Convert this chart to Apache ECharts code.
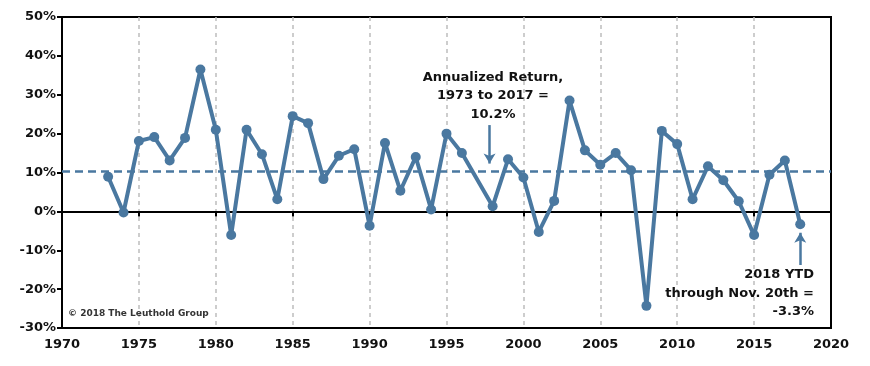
<!DOCTYPE html>
<html>
<head>
<meta charset="utf-8">
<script src="https://cdn.jsdelivr.net/npm/echarts@6/dist/echarts.min.js"></script>
<style>
  html, body { margin: 0; padding: 0; background: #fff; }
  #chart { width: 870px; height: 366px; }
</style>
</head>
<body>
<div id="chart"></div>
<script>
// ---- data ----
const years = [1973, 1974, 1975, 1976, 1977, 1978, 1979, 1980, 1981, 1982, 1983, 1984,
  1985, 1986, 1987, 1988, 1989, 1990, 1991, 1992, 1993, 1994, 1995, 1996, 1998, 1999,
  2000, 2001, 2002, 2003, 2004, 2005, 2006, 2007, 2008, 2009, 2010, 2011, 2012, 2013,
  2014, 2015, 2016, 2017, 2018];
const returns = [8.9, -0.3, 18.1, 19.1, 13.1, 18.9, 36.5, 21.0, -6.1, 21.0, 14.7, 3.1,
  24.5, 22.7, 8.3, 14.3, 16.0, -3.7, 17.6, 5.3, 14.0, 0.5, 20.0, 15.0, 1.3, 13.4,
  8.7, -5.3, 2.7, 28.5, 15.7, 12.0, 15.0, 10.6, -24.3, 20.7, 17.3, 3.1, 11.6, 8.0,
  2.6, -6.1, 9.4, 13.1, -3.3];
const annualized = 10.2;
const yTicks = { min: -30, max: 50, interval: 10 };
const xTicks = { min: 1970, max: 2020, interval: 5 };
const avgNote = "Annualized Return,\n1973 to 2017 =\n10.2%";
const ytdNote = "2018 YTD\nthrough Nov. 20th =\n-3.3%";
const copyright = "© 2018 The Leuthold Group";
// annotation arrows (data coords)
const arrowAvg = [[1997.8, 22.2], [1997.8, 12.3]];
const arrowYtd = [[2018, -13.8], [2018, -5.5]];

const BLUE = '#4a78a0';
const FONT = 'DejaVu Sans';
const data = years.map((y, i) => [y, returns[i]]);

const chart = echarts.init(document.getElementById('chart'), null, { renderer: 'canvas' });
chart.setOption({
  animation: false,
  grid: { left: 62, right: 39, top: 17, bottom: 38, show: true, borderColor: '#000', borderWidth: 2, backgroundColor: 'transparent' },
  xAxis: {
    type: 'value', min: xTicks.min, max: xTicks.max, interval: xTicks.interval,
    axisLine: { lineStyle: { color: '#000', width: 2 } },
    axisTick: { show: true, inside: false, length: 5, lineStyle: { color: '#000', width: 2 } },
    axisLabel: { margin: 10, color: '#111', fontFamily: FONT, fontWeight: 'bold', fontSize: 13, formatter: v => String(v) },
    splitLine: { show: true, showMinLine: false, showMaxLine: false, lineStyle: { color: '#bdbdbd', width: 1.5, type: [4, 4] } }
  },
  yAxis: {
    type: 'value', min: yTicks.min, max: yTicks.max, interval: yTicks.interval,
    axisLine: { show: true, lineStyle: { color: '#000', width: 2 } },
    axisTick: { show: true, inside: false, length: 5, lineStyle: { color: '#000', width: 2 } },
    axisLabel: { margin: 6, color: '#111', fontFamily: FONT, fontWeight: 'bold', fontSize: 13, formatter: '{value}%' },
    splitLine: { show: false }
  },
  series: [
    {
      type: 'line', z: 1, data: [], silent: true,
      markLine: {
        silent: true, animation: false, symbol: ['none', 'none'], label: { show: false },
        data: [
          { yAxis: 0, lineStyle: { color: '#000', width: 2, type: 'solid' } },
          { yAxis: annualized, lineStyle: { color: BLUE, width: 2.5, type: [8, 5] } }
        ]
      }
    },
    {
      type: 'line', z: 1, data: [], silent: true,
      markLine: {
        silent: true, animation: false, symbol: ['none', 'arrow'], symbolSize: [9, 10], label: { show: false },
        lineStyle: { color: BLUE, width: 2.5, type: 'solid' },
        data: [
          [{ coord: arrowAvg[0] }, { coord: arrowAvg[1] }],
          [{ coord: arrowYtd[0] }, { coord: arrowYtd[1] }]
        ]
      }
    },
    {
      type: 'line', z: 5, data: data,
      lineStyle: { color: BLUE, width: 4 },
      itemStyle: { color: BLUE },
      symbol: 'circle', symbolSize: 10, showSymbol: true
    }
  ],
  graphic: [
    { type: 'text', z: 10, x: 493, y: 96, style: { text: avgNote, font: 'bold 13px "DejaVu Sans"', fill: '#111', textAlign: 'center', textVerticalAlign: 'middle', lineHeight: 18.5 } },
    { type: 'text', z: 10, x: 814, y: 293.5, style: { text: ytdNote, font: 'bold 13px "DejaVu Sans"', fill: '#111', textAlign: 'right', textVerticalAlign: 'middle', lineHeight: 18.5 } },
    { type: 'text', z: 10, x: 68, y: 314, style: { text: copyright, font: 'bold 9px "DejaVu Sans"', fill: '#333', textAlign: 'left', textVerticalAlign: 'middle' } }
  ]
});
</script>
</body>
</html>
